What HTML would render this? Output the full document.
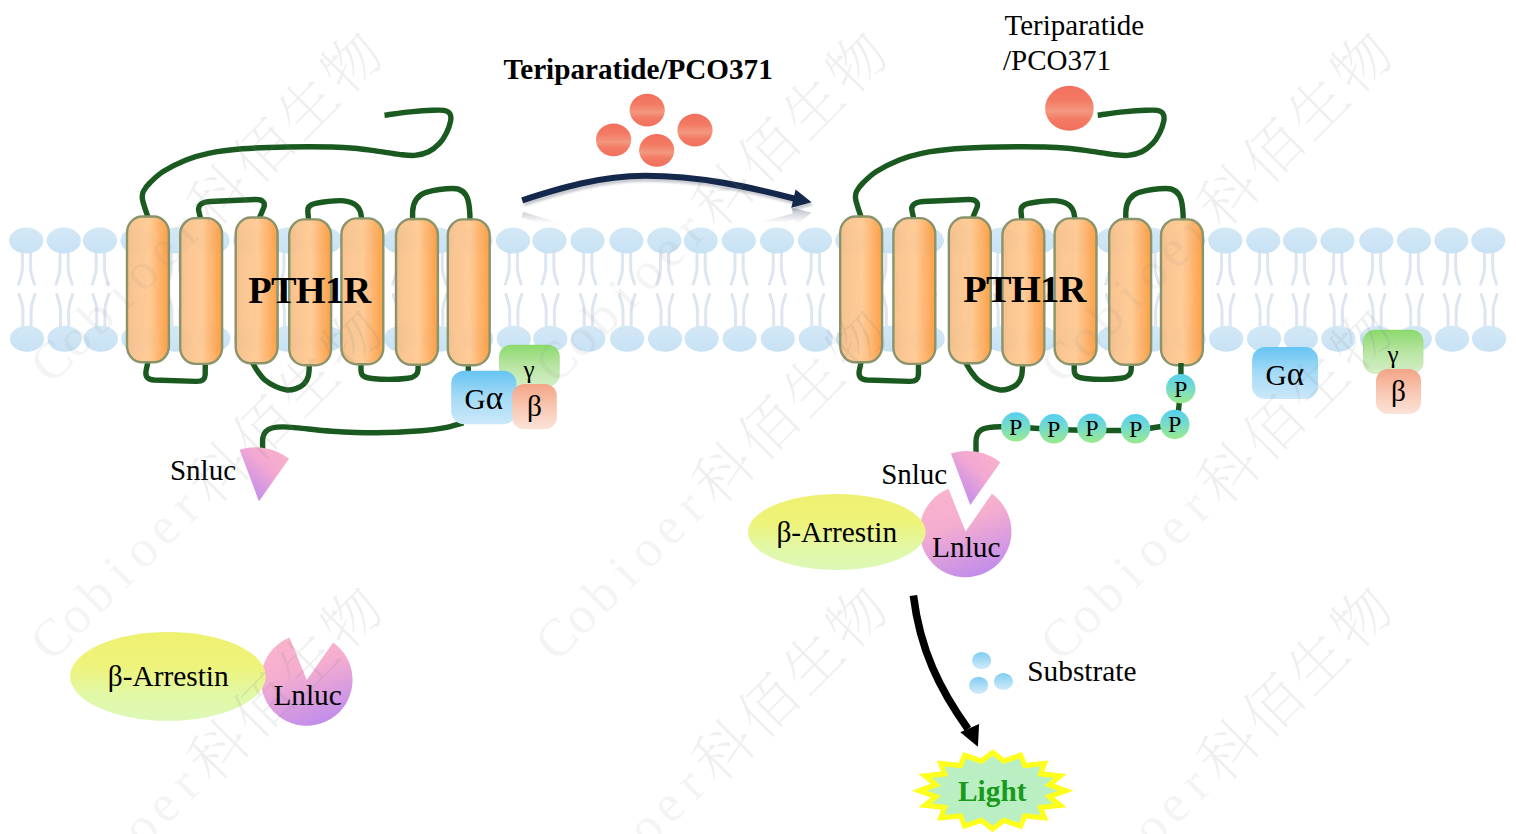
<!DOCTYPE html>
<html lang="en"><head><meta charset="utf-8"><title>PTH1R beta-arrestin NanoBiT assay</title>
<style>
html,body{margin:0;padding:0;background:#fff;}
body{width:1516px;height:834px;overflow:hidden;font-family:'Liberation Serif', 'Noto Serif CJK SC', serif;}
svg{display:block}
text{font-family:'Liberation Serif', 'Noto Serif CJK SC', serif;fill:#000;}
.b{font-weight:bold}
.tail{fill:none;stroke:#dde5f1;stroke-width:3;stroke-linecap:round}
.loop{fill:none;stroke:#1a5a20;stroke-width:5.4;stroke-linecap:butt;stroke-linejoin:round}
.helix{fill:url(#gHelix);stroke:#89946a;stroke-width:2.4;fill-opacity:0.93}
.wm{fill:#808080;fill-opacity:0.125;font-family:'Liberation Serif','Noto Serif CJK SC',serif;font-weight:200}
.wml{fill-opacity:0.09}
</style></head><body>
<svg width="1516" height="834" viewBox="0 0 1516 834">

<defs>
<linearGradient id="gHead" x1="0" y1="0" x2="0" y2="1"><stop offset="0" stop-color="#d4e8f6"/><stop offset="1" stop-color="#c7e2f4"/></linearGradient>
<linearGradient id="gHelix" x1="0" y1="0" x2="1" y2="0">
 <stop offset="0" stop-color="#f6bc84"/><stop offset="0.2" stop-color="#fac38c"/><stop offset="0.52" stop-color="#ffc890"/><stop offset="0.78" stop-color="#feae62"/><stop offset="0.95" stop-color="#fe9e40"/><stop offset="1" stop-color="#f8993a"/></linearGradient>
<linearGradient id="gRed" x1="0" y1="0" x2="0" y2="1"><stop offset="0" stop-color="#f2705c"/><stop offset="0.32" stop-color="#f37a64"/><stop offset="0.57" stop-color="#f3987f"/><stop offset="0.74" stop-color="#f37b65"/><stop offset="1" stop-color="#f16f5c"/></linearGradient>
<linearGradient id="gGa" x1="0" y1="0" x2="0" y2="1"><stop offset="0" stop-color="#66c4f2"/><stop offset="0.5" stop-color="#a6dbf6"/><stop offset="1" stop-color="#cbe8f9"/></linearGradient>
<linearGradient id="gGg" x1="0" y1="0" x2="0" y2="1"><stop offset="0" stop-color="#8bd96c"/><stop offset="0.5" stop-color="#b8e5a2"/><stop offset="1" stop-color="#d5efc8"/></linearGradient>
<linearGradient id="gGb" x1="0" y1="0" x2="0" y2="1"><stop offset="0" stop-color="#f3a486"/><stop offset="0.5" stop-color="#f8c7b2"/><stop offset="1" stop-color="#fbe3d8"/></linearGradient>
<linearGradient id="gP" x1="0" y1="0" x2="0" y2="1"><stop offset="0" stop-color="#55cff0"/><stop offset="0.5" stop-color="#78dcc8"/><stop offset="1" stop-color="#9aea8c"/></linearGradient>
<linearGradient id="gArr" x1="0" y1="0" x2="0" y2="1"><stop offset="0" stop-color="#eef170"/><stop offset="0.38" stop-color="#eef37a"/><stop offset="0.7" stop-color="#e2f8a6"/><stop offset="1" stop-color="#dcf8b6"/></linearGradient>
<linearGradient id="gLn" x1="0.3" y1="0.05" x2="0.65" y2="1"><stop offset="0" stop-color="#f9b3cc"/><stop offset="0.35" stop-color="#f5add0"/><stop offset="1" stop-color="#c08cec"/></linearGradient>
<linearGradient id="gSn" x1="0.85" y1="0.1" x2="0.2" y2="0.85"><stop offset="0" stop-color="#f8b0cc"/><stop offset="0.4" stop-color="#f2a8d2"/><stop offset="1" stop-color="#c48eea"/></linearGradient>
<linearGradient id="gSub" x1="0" y1="0" x2="0" y2="1"><stop offset="0" stop-color="#7fcdf3"/><stop offset="1" stop-color="#d3ebf9"/></linearGradient>
<linearGradient id="gRefl" gradientUnits="userSpaceOnUse" x1="0" y1="209" x2="0" y2="223"><stop offset="0" stop-color="#fff"/><stop offset="1" stop-color="#000"/></linearGradient>
<mask id="mRefl" maskUnits="userSpaceOnUse" x="500" y="200" width="340" height="40"><rect x="500" y="200" width="340" height="40" fill="url(#gRefl)"/></mask>
<filter id="fBlur" x="-5%" y="-20%" width="110%" height="140%"><feGaussianBlur stdDeviation="1"/></filter>
<g id="navy"><path d="M522.2 200.3 C560 188 600 176 645 175.8 C700 175.8 750 187 795 198.8" fill="none" stroke="currentColor" stroke-width="6.1"/><path d="M795.6 189.6 L811.6 202.3 L791.3 207.7 Z" fill="currentColor"/></g>
</defs>

<rect width="1516" height="834" fill="#fff"/>
<g id="membrane">
<path d="M22.4 252 V268 C22.4 274 20.3 278 18.6 284 M30.6 252 V268 C30.6 274 32.7 278 34.4 284" class="tail"/>
<path d="M22.9 327 V310.5 C22.9 304.5 20.8 300.5 19.1 294.5 M31.1 327 V310.5 C31.1 304.5 33.2 300.5 34.9 294.5" class="tail"/>
<ellipse cx="26.2" cy="240.6" rx="17.1" ry="13" fill="url(#gHead)"/>
<ellipse cx="27.0" cy="338.7" rx="17.1" ry="13" fill="url(#gHead)"/>
<path d="M60.0 252 V268 C60.0 274 57.9 278 56.2 284 M68.2 252 V268 C68.2 274 70.3 278 72.0 284" class="tail"/>
<path d="M60.5 327 V310.5 C60.5 304.5 58.4 300.5 56.7 294.5 M68.7 327 V310.5 C68.7 304.5 70.8 300.5 72.5 294.5" class="tail"/>
<ellipse cx="63.8" cy="240.6" rx="17.1" ry="13" fill="url(#gHead)"/>
<ellipse cx="64.6" cy="338.7" rx="17.1" ry="13" fill="url(#gHead)"/>
<path d="M96.2 252 V268 C96.2 274 94.1 278 92.4 284 M104.4 252 V268 C104.4 274 106.5 278 108.2 284" class="tail"/>
<path d="M96.7 327 V310.5 C96.7 304.5 94.6 300.5 92.9 294.5 M104.9 327 V310.5 C104.9 304.5 107.0 300.5 108.7 294.5" class="tail"/>
<ellipse cx="100.0" cy="240.6" rx="17.1" ry="13" fill="url(#gHead)"/>
<ellipse cx="100.8" cy="338.7" rx="17.1" ry="13" fill="url(#gHead)"/>
<path d="M133.7 252 V268 C133.7 274 131.6 278 129.9 284 M141.9 252 V268 C141.9 274 144.0 278 145.7 284" class="tail"/>
<path d="M134.2 327 V310.5 C134.2 304.5 132.1 300.5 130.4 294.5 M142.4 327 V310.5 C142.4 304.5 144.5 300.5 146.2 294.5" class="tail"/>
<ellipse cx="137.5" cy="240.6" rx="17.1" ry="13" fill="url(#gHead)"/>
<ellipse cx="138.3" cy="338.7" rx="17.1" ry="13" fill="url(#gHead)"/>
<path d="M171.2 252 V268 C171.2 274 169.2 278 167.5 284 M179.5 252 V268 C179.5 274 181.6 278 183.2 284" class="tail"/>
<path d="M171.8 327 V310.5 C171.8 304.5 169.7 300.5 168.0 294.5 M180.0 327 V310.5 C180.0 304.5 182.1 300.5 183.8 294.5" class="tail"/>
<ellipse cx="175.1" cy="240.6" rx="17.1" ry="13" fill="url(#gHead)"/>
<ellipse cx="175.9" cy="338.7" rx="17.1" ry="13" fill="url(#gHead)"/>
<path d="M208.8 252 V268 C208.8 274 206.7 278 205.0 284 M217.0 252 V268 C217.0 274 219.1 278 220.8 284" class="tail"/>
<path d="M209.3 327 V310.5 C209.3 304.5 207.2 300.5 205.5 294.5 M217.5 327 V310.5 C217.5 304.5 219.6 300.5 221.3 294.5" class="tail"/>
<ellipse cx="212.6" cy="240.6" rx="17.1" ry="13" fill="url(#gHead)"/>
<ellipse cx="213.4" cy="338.7" rx="17.1" ry="13" fill="url(#gHead)"/>
<path d="M246.3 252 V268 C246.3 274 244.2 278 242.6 284 M254.6 252 V268 C254.6 274 256.6 278 258.4 284" class="tail"/>
<path d="M246.8 327 V310.5 C246.8 304.5 244.8 300.5 243.1 294.5 M255.1 327 V310.5 C255.1 304.5 257.1 300.5 258.9 294.5" class="tail"/>
<ellipse cx="250.2" cy="240.6" rx="17.1" ry="13" fill="url(#gHead)"/>
<ellipse cx="251.0" cy="338.7" rx="17.1" ry="13" fill="url(#gHead)"/>
<path d="M283.9 252 V268 C283.9 274 281.8 278 280.1 284 M292.1 252 V268 C292.1 274 294.2 278 295.9 284" class="tail"/>
<path d="M284.4 327 V310.5 C284.4 304.5 282.3 300.5 280.6 294.5 M292.6 327 V310.5 C292.6 304.5 294.7 300.5 296.4 294.5" class="tail"/>
<ellipse cx="287.7" cy="240.6" rx="17.1" ry="13" fill="url(#gHead)"/>
<ellipse cx="288.5" cy="338.7" rx="17.1" ry="13" fill="url(#gHead)"/>
<path d="M321.4 252 V268 C321.4 274 319.4 278 317.6 284 M329.6 252 V268 C329.6 274 331.8 278 333.4 284" class="tail"/>
<path d="M321.9 327 V310.5 C321.9 304.5 319.9 300.5 318.1 294.5 M330.1 327 V310.5 C330.1 304.5 332.2 300.5 333.9 294.5" class="tail"/>
<ellipse cx="325.2" cy="240.6" rx="17.1" ry="13" fill="url(#gHead)"/>
<ellipse cx="326.1" cy="338.7" rx="17.1" ry="13" fill="url(#gHead)"/>
<path d="M359.0 252 V268 C359.0 274 356.9 278 355.2 284 M367.2 252 V268 C367.2 274 369.3 278 371.0 284" class="tail"/>
<path d="M359.5 327 V310.5 C359.5 304.5 357.4 300.5 355.7 294.5 M367.7 327 V310.5 C367.7 304.5 369.8 300.5 371.5 294.5" class="tail"/>
<ellipse cx="362.8" cy="240.6" rx="17.1" ry="13" fill="url(#gHead)"/>
<ellipse cx="363.6" cy="338.7" rx="17.1" ry="13" fill="url(#gHead)"/>
<path d="M396.6 252 V268 C396.6 274 394.5 278 392.8 284 M404.8 252 V268 C404.8 274 406.9 278 408.6 284" class="tail"/>
<path d="M397.1 327 V310.5 C397.1 304.5 395.0 300.5 393.2 294.5 M405.2 327 V310.5 C405.2 304.5 407.4 300.5 409.1 294.5" class="tail"/>
<ellipse cx="400.4" cy="240.6" rx="17.1" ry="13" fill="url(#gHead)"/>
<ellipse cx="401.2" cy="338.7" rx="17.1" ry="13" fill="url(#gHead)"/>
<path d="M434.1 252 V268 C434.1 274 432.0 278 430.3 284 M442.3 252 V268 C442.3 274 444.4 278 446.1 284" class="tail"/>
<path d="M434.6 327 V310.5 C434.6 304.5 432.5 300.5 430.8 294.5 M442.8 327 V310.5 C442.8 304.5 444.9 300.5 446.6 294.5" class="tail"/>
<ellipse cx="437.9" cy="240.6" rx="17.1" ry="13" fill="url(#gHead)"/>
<ellipse cx="438.7" cy="338.7" rx="17.1" ry="13" fill="url(#gHead)"/>
<path d="M471.6 252 V268 C471.6 274 469.6 278 467.8 284 M479.8 252 V268 C479.8 274 481.9 278 483.6 284" class="tail"/>
<path d="M472.1 327 V310.5 C472.1 304.5 470.1 300.5 468.3 294.5 M480.3 327 V310.5 C480.3 304.5 482.4 300.5 484.1 294.5" class="tail"/>
<ellipse cx="475.4" cy="240.6" rx="17.1" ry="13" fill="url(#gHead)"/>
<ellipse cx="476.2" cy="338.7" rx="17.1" ry="13" fill="url(#gHead)"/>
<path d="M509.2 252 V268 C509.2 274 507.1 278 505.4 284 M517.4 252 V268 C517.4 274 519.5 278 521.2 284" class="tail"/>
<path d="M509.7 327 V310.5 C509.7 304.5 507.6 300.5 505.9 294.5 M517.9 327 V310.5 C517.9 304.5 520.0 300.5 521.7 294.5" class="tail"/>
<ellipse cx="513.0" cy="240.6" rx="17.1" ry="13" fill="url(#gHead)"/>
<ellipse cx="513.8" cy="338.7" rx="17.1" ry="13" fill="url(#gHead)"/>
<path d="M545.7 252 V268 C545.7 274 543.6 278 541.9 284 M553.9 252 V268 C553.9 274 556.0 278 557.7 284" class="tail"/>
<path d="M546.2 327 V310.5 C546.2 304.5 544.1 300.5 542.4 294.5 M554.4 327 V310.5 C554.4 304.5 556.5 300.5 558.2 294.5" class="tail"/>
<ellipse cx="549.5" cy="240.6" rx="17.1" ry="13" fill="url(#gHead)"/>
<ellipse cx="550.3" cy="338.7" rx="17.1" ry="13" fill="url(#gHead)"/>
<path d="M583.7 252 V268 C583.7 274 581.6 278 579.9 284 M591.9 252 V268 C591.9 274 594.0 278 595.7 284" class="tail"/>
<path d="M584.2 327 V310.5 C584.2 304.5 582.1 300.5 580.4 294.5 M592.4 327 V310.5 C592.4 304.5 594.5 300.5 596.2 294.5" class="tail"/>
<ellipse cx="587.5" cy="240.6" rx="17.1" ry="13" fill="url(#gHead)"/>
<ellipse cx="588.3" cy="338.7" rx="17.1" ry="13" fill="url(#gHead)"/>
<path d="M622.5 252 V268 C622.5 274 620.4 278 618.7 284 M630.7 252 V268 C630.7 274 632.8 278 634.5 284" class="tail"/>
<path d="M623.0 327 V310.5 C623.0 304.5 620.9 300.5 619.2 294.5 M631.2 327 V310.5 C631.2 304.5 633.3 300.5 635.0 294.5" class="tail"/>
<ellipse cx="626.3" cy="240.6" rx="17.1" ry="13" fill="url(#gHead)"/>
<ellipse cx="627.1" cy="338.7" rx="17.1" ry="13" fill="url(#gHead)"/>
<path d="M660.5 252 V268 C660.5 274 658.4 278 656.7 284 M668.7 252 V268 C668.7 274 670.8 278 672.5 284" class="tail"/>
<path d="M661.0 327 V310.5 C661.0 304.5 658.9 300.5 657.2 294.5 M669.2 327 V310.5 C669.2 304.5 671.3 300.5 673.0 294.5" class="tail"/>
<ellipse cx="664.3" cy="240.6" rx="17.1" ry="13" fill="url(#gHead)"/>
<ellipse cx="665.1" cy="338.7" rx="17.1" ry="13" fill="url(#gHead)"/>
<path d="M697.0 252 V268 C697.0 274 694.9 278 693.2 284 M705.2 252 V268 C705.2 274 707.3 278 709.0 284" class="tail"/>
<path d="M697.5 327 V310.5 C697.5 304.5 695.4 300.5 693.7 294.5 M705.7 327 V310.5 C705.7 304.5 707.8 300.5 709.5 294.5" class="tail"/>
<ellipse cx="700.8" cy="240.6" rx="17.1" ry="13" fill="url(#gHead)"/>
<ellipse cx="701.6" cy="338.7" rx="17.1" ry="13" fill="url(#gHead)"/>
<path d="M735.0 252 V268 C735.0 274 732.9 278 731.2 284 M743.2 252 V268 C743.2 274 745.3 278 747.0 284" class="tail"/>
<path d="M735.5 327 V310.5 C735.5 304.5 733.4 300.5 731.7 294.5 M743.7 327 V310.5 C743.7 304.5 745.8 300.5 747.5 294.5" class="tail"/>
<ellipse cx="738.8" cy="240.6" rx="17.1" ry="13" fill="url(#gHead)"/>
<ellipse cx="739.6" cy="338.7" rx="17.1" ry="13" fill="url(#gHead)"/>
<path d="M773.2 252 V268 C773.2 274 771.1 278 769.4 284 M781.4 252 V268 C781.4 274 783.5 278 785.2 284" class="tail"/>
<path d="M773.7 327 V310.5 C773.7 304.5 771.6 300.5 769.9 294.5 M781.9 327 V310.5 C781.9 304.5 784.0 300.5 785.7 294.5" class="tail"/>
<ellipse cx="777.0" cy="240.6" rx="17.1" ry="13" fill="url(#gHead)"/>
<ellipse cx="777.8" cy="338.7" rx="17.1" ry="13" fill="url(#gHead)"/>
<path d="M811.2 252 V268 C811.2 274 809.1 278 807.4 284 M819.4 252 V268 C819.4 274 821.5 278 823.2 284" class="tail"/>
<path d="M811.7 327 V310.5 C811.7 304.5 809.6 300.5 807.9 294.5 M819.9 327 V310.5 C819.9 304.5 822.0 300.5 823.7 294.5" class="tail"/>
<ellipse cx="815.0" cy="240.6" rx="17.1" ry="13" fill="url(#gHead)"/>
<ellipse cx="815.8" cy="338.7" rx="17.1" ry="13" fill="url(#gHead)"/>
<path d="M848.5 252 V268 C848.5 274 846.4 278 844.7 284 M856.7 252 V268 C856.7 274 858.8 278 860.5 284" class="tail"/>
<path d="M849.0 327 V310.5 C849.0 304.5 846.9 300.5 845.2 294.5 M857.2 327 V310.5 C857.2 304.5 859.3 300.5 861.0 294.5" class="tail"/>
<ellipse cx="852.3" cy="240.6" rx="17.1" ry="13" fill="url(#gHead)"/>
<ellipse cx="853.1" cy="338.7" rx="17.1" ry="13" fill="url(#gHead)"/>
<path d="M885.8 252 V268 C885.8 274 883.7 278 882.0 284 M894.0 252 V268 C894.0 274 896.1 278 897.8 284" class="tail"/>
<path d="M886.3 327 V310.5 C886.3 304.5 884.2 300.5 882.5 294.5 M894.5 327 V310.5 C894.5 304.5 896.6 300.5 898.3 294.5" class="tail"/>
<ellipse cx="889.6" cy="240.6" rx="17.1" ry="13" fill="url(#gHead)"/>
<ellipse cx="890.4" cy="338.7" rx="17.1" ry="13" fill="url(#gHead)"/>
<path d="M923.1 252 V268 C923.1 274 921.0 278 919.3 284 M931.3 252 V268 C931.3 274 933.4 278 935.1 284" class="tail"/>
<path d="M923.6 327 V310.5 C923.6 304.5 921.5 300.5 919.8 294.5 M931.8 327 V310.5 C931.8 304.5 933.9 300.5 935.6 294.5" class="tail"/>
<ellipse cx="926.9" cy="240.6" rx="17.1" ry="13" fill="url(#gHead)"/>
<ellipse cx="927.7" cy="338.7" rx="17.1" ry="13" fill="url(#gHead)"/>
<path d="M960.4 252 V268 C960.4 274 958.3 278 956.6 284 M968.6 252 V268 C968.6 274 970.7 278 972.4 284" class="tail"/>
<path d="M960.9 327 V310.5 C960.9 304.5 958.8 300.5 957.1 294.5 M969.1 327 V310.5 C969.1 304.5 971.2 300.5 972.9 294.5" class="tail"/>
<ellipse cx="964.2" cy="240.6" rx="17.1" ry="13" fill="url(#gHead)"/>
<ellipse cx="965.0" cy="338.7" rx="17.1" ry="13" fill="url(#gHead)"/>
<path d="M997.7 252 V268 C997.7 274 995.6 278 993.9 284 M1005.9 252 V268 C1005.9 274 1008.0 278 1009.7 284" class="tail"/>
<path d="M998.2 327 V310.5 C998.2 304.5 996.1 300.5 994.4 294.5 M1006.4 327 V310.5 C1006.4 304.5 1008.5 300.5 1010.2 294.5" class="tail"/>
<ellipse cx="1001.5" cy="240.6" rx="17.1" ry="13" fill="url(#gHead)"/>
<ellipse cx="1002.3" cy="338.7" rx="17.1" ry="13" fill="url(#gHead)"/>
<path d="M1035.0 252 V268 C1035.0 274 1032.9 278 1031.2 284 M1043.2 252 V268 C1043.2 274 1045.3 278 1047.0 284" class="tail"/>
<path d="M1035.5 327 V310.5 C1035.5 304.5 1033.4 300.5 1031.7 294.5 M1043.7 327 V310.5 C1043.7 304.5 1045.8 300.5 1047.5 294.5" class="tail"/>
<ellipse cx="1038.8" cy="240.6" rx="17.1" ry="13" fill="url(#gHead)"/>
<ellipse cx="1039.6" cy="338.7" rx="17.1" ry="13" fill="url(#gHead)"/>
<path d="M1072.3 252 V268 C1072.3 274 1070.2 278 1068.5 284 M1080.5 252 V268 C1080.5 274 1082.6 278 1084.3 284" class="tail"/>
<path d="M1072.8 327 V310.5 C1072.8 304.5 1070.7 300.5 1069.0 294.5 M1081.0 327 V310.5 C1081.0 304.5 1083.1 300.5 1084.8 294.5" class="tail"/>
<ellipse cx="1076.1" cy="240.6" rx="17.1" ry="13" fill="url(#gHead)"/>
<ellipse cx="1076.9" cy="338.7" rx="17.1" ry="13" fill="url(#gHead)"/>
<path d="M1109.6 252 V268 C1109.6 274 1107.5 278 1105.8 284 M1117.8 252 V268 C1117.8 274 1119.9 278 1121.6 284" class="tail"/>
<path d="M1110.1 327 V310.5 C1110.1 304.5 1108.0 300.5 1106.3 294.5 M1118.3 327 V310.5 C1118.3 304.5 1120.4 300.5 1122.1 294.5" class="tail"/>
<ellipse cx="1113.4" cy="240.6" rx="17.1" ry="13" fill="url(#gHead)"/>
<ellipse cx="1114.2" cy="338.7" rx="17.1" ry="13" fill="url(#gHead)"/>
<path d="M1146.9 252 V268 C1146.9 274 1144.8 278 1143.1 284 M1155.1 252 V268 C1155.1 274 1157.2 278 1158.9 284" class="tail"/>
<path d="M1147.4 327 V310.5 C1147.4 304.5 1145.3 300.5 1143.6 294.5 M1155.6 327 V310.5 C1155.6 304.5 1157.7 300.5 1159.4 294.5" class="tail"/>
<ellipse cx="1150.7" cy="240.6" rx="17.1" ry="13" fill="url(#gHead)"/>
<ellipse cx="1151.5" cy="338.7" rx="17.1" ry="13" fill="url(#gHead)"/>
<path d="M1184.2 252 V268 C1184.2 274 1182.1 278 1180.4 284 M1192.4 252 V268 C1192.4 274 1194.5 278 1196.2 284" class="tail"/>
<path d="M1184.7 327 V310.5 C1184.7 304.5 1182.6 300.5 1180.9 294.5 M1192.9 327 V310.5 C1192.9 304.5 1195.0 300.5 1196.7 294.5" class="tail"/>
<ellipse cx="1188.0" cy="240.6" rx="17.1" ry="13" fill="url(#gHead)"/>
<ellipse cx="1188.8" cy="338.7" rx="17.1" ry="13" fill="url(#gHead)"/>
<path d="M1221.5 252 V268 C1221.5 274 1219.4 278 1217.7 284 M1229.7 252 V268 C1229.7 274 1231.8 278 1233.5 284" class="tail"/>
<path d="M1222.0 327 V310.5 C1222.0 304.5 1219.9 300.5 1218.2 294.5 M1230.2 327 V310.5 C1230.2 304.5 1232.3 300.5 1234.0 294.5" class="tail"/>
<ellipse cx="1225.3" cy="240.6" rx="17.1" ry="13" fill="url(#gHead)"/>
<ellipse cx="1226.1" cy="338.7" rx="17.1" ry="13" fill="url(#gHead)"/>
<path d="M1259.5 252 V268 C1259.5 274 1257.4 278 1255.7 284 M1267.7 252 V268 C1267.7 274 1269.8 278 1271.5 284" class="tail"/>
<path d="M1260.0 327 V310.5 C1260.0 304.5 1257.9 300.5 1256.2 294.5 M1268.2 327 V310.5 C1268.2 304.5 1270.3 300.5 1272.0 294.5" class="tail"/>
<ellipse cx="1263.3" cy="240.6" rx="17.1" ry="13" fill="url(#gHead)"/>
<ellipse cx="1264.1" cy="338.7" rx="17.1" ry="13" fill="url(#gHead)"/>
<path d="M1296.2 252 V268 C1296.2 274 1294.1 278 1292.4 284 M1304.4 252 V268 C1304.4 274 1306.5 278 1308.2 284" class="tail"/>
<path d="M1296.7 327 V310.5 C1296.7 304.5 1294.6 300.5 1292.9 294.5 M1304.9 327 V310.5 C1304.9 304.5 1307.0 300.5 1308.7 294.5" class="tail"/>
<ellipse cx="1300.0" cy="240.6" rx="17.1" ry="13" fill="url(#gHead)"/>
<ellipse cx="1300.8" cy="338.7" rx="17.1" ry="13" fill="url(#gHead)"/>
<path d="M1333.7 252 V268 C1333.7 274 1331.6 278 1329.9 284 M1341.9 252 V268 C1341.9 274 1344.0 278 1345.7 284" class="tail"/>
<path d="M1334.2 327 V310.5 C1334.2 304.5 1332.1 300.5 1330.4 294.5 M1342.4 327 V310.5 C1342.4 304.5 1344.5 300.5 1346.2 294.5" class="tail"/>
<ellipse cx="1337.5" cy="240.6" rx="17.1" ry="13" fill="url(#gHead)"/>
<ellipse cx="1338.3" cy="338.7" rx="17.1" ry="13" fill="url(#gHead)"/>
<path d="M1372.5 252 V268 C1372.5 274 1370.4 278 1368.7 284 M1380.7 252 V268 C1380.7 274 1382.8 278 1384.5 284" class="tail"/>
<path d="M1373.0 327 V310.5 C1373.0 304.5 1370.9 300.5 1369.2 294.5 M1381.2 327 V310.5 C1381.2 304.5 1383.3 300.5 1385.0 294.5" class="tail"/>
<ellipse cx="1376.3" cy="240.6" rx="17.1" ry="13" fill="url(#gHead)"/>
<ellipse cx="1377.1" cy="338.7" rx="17.1" ry="13" fill="url(#gHead)"/>
<path d="M1410.2 252 V268 C1410.2 274 1408.1 278 1406.4 284 M1418.4 252 V268 C1418.4 274 1420.5 278 1422.2 284" class="tail"/>
<path d="M1410.7 327 V310.5 C1410.7 304.5 1408.6 300.5 1406.9 294.5 M1418.9 327 V310.5 C1418.9 304.5 1421.0 300.5 1422.7 294.5" class="tail"/>
<ellipse cx="1414.0" cy="240.6" rx="17.1" ry="13" fill="url(#gHead)"/>
<ellipse cx="1414.8" cy="338.7" rx="17.1" ry="13" fill="url(#gHead)"/>
<path d="M1447.5 252 V268 C1447.5 274 1445.4 278 1443.7 284 M1455.7 252 V268 C1455.7 274 1457.8 278 1459.5 284" class="tail"/>
<path d="M1448.0 327 V310.5 C1448.0 304.5 1445.9 300.5 1444.2 294.5 M1456.2 327 V310.5 C1456.2 304.5 1458.3 300.5 1460.0 294.5" class="tail"/>
<ellipse cx="1451.3" cy="240.6" rx="17.1" ry="13" fill="url(#gHead)"/>
<ellipse cx="1452.1" cy="338.7" rx="17.1" ry="13" fill="url(#gHead)"/>
<path d="M1484.5 252 V268 C1484.5 274 1482.4 278 1480.7 284 M1492.7 252 V268 C1492.7 274 1494.8 278 1496.5 284" class="tail"/>
<path d="M1485.0 327 V310.5 C1485.0 304.5 1482.9 300.5 1481.2 294.5 M1493.2 327 V310.5 C1493.2 304.5 1495.3 300.5 1497.0 294.5" class="tail"/>
<ellipse cx="1488.3" cy="240.6" rx="17.1" ry="13" fill="url(#gHead)"/>
<ellipse cx="1489.1" cy="338.7" rx="17.1" ry="13" fill="url(#gHead)"/>
</g>
<g transform="translate(0 0)">
<path d="M384.5 115.2 C388.8 114.7 402.2 112.7 410.3 111.9 C418.4 111.1 427.2 110.5 432.8 110.3 C438.4 110.0 441.2 109.9 444.0 110.4 C446.8 111.0 448.7 111.8 449.8 113.6 C450.9 115.4 451.2 117.8 450.6 121.0 C450.0 124.2 448.2 129.4 446.4 133.1 C444.5 136.8 442.5 140.3 439.5 143.4 C436.5 146.5 432.7 149.8 428.6 151.8 C424.5 153.8 419.7 155.0 414.8 155.4 C409.9 155.8 405.5 155.1 399.1 154.4 C392.8 153.7 384.2 152.1 376.7 151.1 C369.2 150.1 361.8 148.9 354.3 148.2 C346.8 147.5 343.0 147.2 331.8 147.0 C320.6 146.8 301.9 146.7 287.0 147.0 C272.1 147.3 255.2 147.8 242.1 148.8 C229.0 149.9 217.8 151.4 208.5 153.3 C199.2 155.2 193.6 157.0 186.1 160.0 C178.6 163.0 169.6 167.6 163.6 171.3 C157.6 175.1 153.6 179.2 150.2 182.5 C146.8 185.8 144.7 188.8 143.4 191.4 C142.1 194.0 142.1 195.6 142.3 198.2 C142.5 200.8 143.6 203.8 144.6 207.1 C145.6 210.4 147.7 216.2 148.3 218.0" class="loop"/>
<path d="M200.6 219 L198.8 211 C197.5 205.5 201 202.2 210 201.5 L255 199.5 C262 199.2 265.5 202 264 207 L259 219" class="loop"/>
<path d="M308.6 220 L307.8 211.5 C307.3 207 310 204.6 315.5 203.4 C324 201.6 332 200.6 340 200.6 C351 200.8 358 204.5 360.5 212 L362 220" class="loop"/>
<path d="M412.6 221 L412.6 212 C413 202 417 195.5 426 192.3 C436 189.5 446 188.5 453 188.5 C462 188.5 466 193 468 200 C469.5 206 470 212 470 221" class="loop"/>
<path d="M147.9 362 L146 371 C145 377 148 379.6 154 380 L196 381.4 C202.5 381.6 205 379.5 205.2 374.5 L205.3 363" class="loop"/>
<path d="M252.2 362.0 C253.1 363.5 255.4 368.1 257.5 371.0 C259.6 373.9 261.6 377.1 264.6 379.7 C267.7 382.3 272.1 384.9 275.8 386.6 C279.5 388.3 283.6 389.7 287.0 390.0 C290.4 390.3 293.2 389.6 296.0 388.6 C298.8 387.6 301.8 386.2 303.8 384.2 C305.9 382.1 307.4 379.5 308.3 376.3 C309.2 373.1 309.2 366.9 309.4 365.0" class="loop"/>
<path d="M361 363 L361 370.5 C361.3 376 364.5 377.8 372 378.5 C385 379.8 398 379.5 408 378.2 C415 377.3 417.8 374.5 418 370 L418.2 364" class="loop"/>
<path d="M468.3 364 V373" class="loop"/>
<path d="M463.5 422.8 C460.2 423.6 451.0 426.6 444.0 427.9 C437.0 429.2 432.7 430.0 421.5 430.8 C410.3 431.6 391.6 432.7 376.7 432.8 C361.8 432.9 344.9 432.0 331.8 431.2 C318.7 430.4 306.3 428.6 298.2 427.9 C290.1 427.2 287.4 426.9 283.0 426.9 C278.6 426.9 274.9 427.2 272.0 428.0 C269.1 428.8 267.2 429.9 265.7 431.6 C264.2 433.3 263.3 434.9 262.8 438.0 C262.3 441.1 262.7 448.0 262.7 450.0" class="loop"/>
<rect x="127.00" y="216.50" width="41.9" height="145.8" rx="15.2" ry="16.2" class="helix"/>
<rect x="180.20" y="218.10" width="41.9" height="145.8" rx="15.2" ry="16.2" class="helix"/>
<rect x="235.70" y="217.50" width="41.9" height="145.8" rx="15.2" ry="16.2" class="helix"/>
<rect x="289.20" y="219.40" width="41.9" height="145.8" rx="15.2" ry="16.2" class="helix"/>
<rect x="341.40" y="218.40" width="41.9" height="145.8" rx="15.2" ry="16.2" class="helix"/>
<rect x="396.00" y="219.00" width="41.9" height="145.8" rx="15.2" ry="16.2" class="helix"/>
<rect x="447.80" y="219.40" width="41.9" height="145.8" rx="15.2" ry="16.2" class="helix"/>
<text x="309.4" y="303.2" text-anchor="middle" class="b" font-size="38.3" letter-spacing="-0.6">PTH1R</text>
</g>
<g id="gleft">
<rect x="499" y="344.8" width="60.8" height="41.7" rx="12" fill="url(#gGg)"/>
<rect x="451.2" y="370.8" width="65.3" height="53.4" rx="13" fill="url(#gGa)"/>
<rect x="512.2" y="384" width="44.6" height="45.2" rx="12" fill="url(#gGb)"/>
<text x="483.7" y="408.5" text-anchor="middle" font-size="29.33">G<tspan font-size="33">α</tspan></text>
<text x="529" y="378" text-anchor="middle" font-size="25">γ</text>
<text x="534.5" y="415.5" text-anchor="middle" font-size="29.33">β</text>
</g>
<path d="M259.0 501.3 L239.6 449.8 A54.15 54.15 0 0 1 289.0 458.8 Z" fill="url(#gSn)"/>
<text x="203" y="479.9" text-anchor="middle" font-size="29">Snluc</text>
<path d="M306.8 680.0 L333.1 642.5 A45.8 45.8 0 1 1 289.6 637.5 Z" fill="url(#gLn)"/>
<ellipse cx="167.9" cy="676.4" rx="97.8" ry="44.4" fill="url(#gArr)"/>
<text x="168.2" y="686" text-anchor="middle" font-size="29.33">β-Arrestin</text>
<text x="307.6" y="705.3" text-anchor="middle" font-size="29.33">Lnluc</text>
<text x="638.1" y="78.6" text-anchor="middle" class="b" font-size="29.15">Teriparatide/PCO371</text>
<ellipse cx="647.2" cy="110.2" rx="17.6" ry="16.4" fill="url(#gRed)"/>
<ellipse cx="613.6" cy="139.8" rx="17.6" ry="16.4" fill="url(#gRed)"/>
<ellipse cx="695" cy="130.2" rx="17.6" ry="16.4" fill="url(#gRed)"/>
<ellipse cx="656.7" cy="150.3" rx="17.6" ry="16.4" fill="url(#gRed)"/>
<g mask="url(#mRefl)"><g transform="translate(0 415) scale(1 -1)" opacity="0.55"><use href="#navy" style="color:#8d94a3"/></g></g>
<g transform="translate(1.5 3)" opacity="0.38" filter="url(#fBlur)"><use href="#navy" style="color:#6d7483"/></g>
<use href="#navy" style="color:#14284b"/>
<g transform="translate(713.2 0)">
<path d="M384.5 115.2 C388.8 114.7 402.2 112.7 410.3 111.9 C418.4 111.1 427.2 110.5 432.8 110.3 C438.4 110.0 441.2 109.9 444.0 110.4 C446.8 111.0 448.7 111.8 449.8 113.6 C450.9 115.4 451.2 117.8 450.6 121.0 C450.0 124.2 448.2 129.4 446.4 133.1 C444.5 136.8 442.5 140.3 439.5 143.4 C436.5 146.5 432.7 149.8 428.6 151.8 C424.5 153.8 419.7 155.0 414.8 155.4 C409.9 155.8 405.5 155.1 399.1 154.4 C392.8 153.7 384.2 152.1 376.7 151.1 C369.2 150.1 361.8 148.9 354.3 148.2 C346.8 147.5 343.0 147.2 331.8 147.0 C320.6 146.8 301.9 146.7 287.0 147.0 C272.1 147.3 255.2 147.8 242.1 148.8 C229.0 149.9 217.8 151.4 208.5 153.3 C199.2 155.2 193.6 157.0 186.1 160.0 C178.6 163.0 169.6 167.6 163.6 171.3 C157.6 175.1 153.6 179.2 150.2 182.5 C146.8 185.8 144.7 188.8 143.4 191.4 C142.1 194.0 142.1 195.6 142.3 198.2 C142.5 200.8 143.6 203.8 144.6 207.1 C145.6 210.4 147.7 216.2 148.3 218.0" class="loop"/>
<path d="M200.6 219 L198.8 211 C197.5 205.5 201 202.2 210 201.5 L255 199.5 C262 199.2 265.5 202 264 207 L259 219" class="loop"/>
<path d="M308.6 220 L307.8 211.5 C307.3 207 310 204.6 315.5 203.4 C324 201.6 332 200.6 340 200.6 C351 200.8 358 204.5 360.5 212 L362 220" class="loop"/>
<path d="M412.6 221 L412.6 212 C413 202 417 195.5 426 192.3 C436 189.5 446 188.5 453 188.5 C462 188.5 466 193 468 200 C469.5 206 470 212 470 221" class="loop"/>
<path d="M147.9 362 L146 371 C145 377 148 379.6 154 380 L196 381.4 C202.5 381.6 205 379.5 205.2 374.5 L205.3 363" class="loop"/>
<path d="M252.2 362.0 C253.1 363.5 255.4 368.1 257.5 371.0 C259.6 373.9 261.6 377.1 264.6 379.7 C267.7 382.3 272.1 384.9 275.8 386.6 C279.5 388.3 283.6 389.7 287.0 390.0 C290.4 390.3 293.2 389.6 296.0 388.6 C298.8 387.6 301.8 386.2 303.8 384.2 C305.9 382.1 307.4 379.5 308.3 376.3 C309.2 373.1 309.2 366.9 309.4 365.0" class="loop"/>
<path d="M361 363 L361 370.5 C361.3 376 364.5 377.8 372 378.5 C385 379.8 398 379.5 408 378.2 C415 377.3 417.8 374.5 418 370 L418.2 364" class="loop"/>
<rect x="127.00" y="216.50" width="41.9" height="145.8" rx="15.2" ry="16.2" class="helix"/>
<rect x="180.20" y="218.10" width="41.9" height="145.8" rx="15.2" ry="16.2" class="helix"/>
<rect x="235.70" y="217.50" width="41.9" height="145.8" rx="15.2" ry="16.2" class="helix"/>
<rect x="289.20" y="219.40" width="41.9" height="145.8" rx="15.2" ry="16.2" class="helix"/>
<rect x="341.40" y="218.40" width="41.9" height="145.8" rx="15.2" ry="16.2" class="helix"/>
<rect x="396.00" y="219.00" width="41.9" height="145.8" rx="15.2" ry="16.2" class="helix"/>
<rect x="447.80" y="219.40" width="41.9" height="145.8" rx="15.2" ry="16.2" class="helix"/>
<text x="311.3" y="302.0" text-anchor="middle" class="b" font-size="38.3" letter-spacing="-0.6">PTH1R</text>
</g>
<path d="M1181 363 L1180.8 388.7 L1177 424 L1135.6 430.5 L1091.9 430.5 L1053.8 429.5 L1015.8 427 L1000 426.8 C982 426.8 976 430 976 442 L976 456" class="loop"/>
<circle cx="1180.8" cy="388.7" r="14.7" fill="url(#gP)"/>
<text x="1180.8" y="396.7" text-anchor="middle" font-size="24">P</text>
<circle cx="1174.8" cy="424.4" r="14.7" fill="url(#gP)"/>
<text x="1174.8" y="432.4" text-anchor="middle" font-size="24">P</text>
<circle cx="1135.6" cy="428.8" r="14.7" fill="url(#gP)"/>
<text x="1135.6" y="436.8" text-anchor="middle" font-size="24">P</text>
<circle cx="1091.9" cy="428.2" r="14.7" fill="url(#gP)"/>
<text x="1091.9" y="436.2" text-anchor="middle" font-size="24">P</text>
<circle cx="1053.8" cy="428.8" r="14.7" fill="url(#gP)"/>
<text x="1053.8" y="436.8" text-anchor="middle" font-size="24">P</text>
<circle cx="1015.8" cy="426.9" r="14.7" fill="url(#gP)"/>
<text x="1015.8" y="434.9" text-anchor="middle" font-size="24">P</text>
<text x="1004.5" y="35.1" font-size="29">Teriparatide</text>
<text x="1003" y="69.7" font-size="29">/PCO371</text>
<ellipse cx="1069.4" cy="108.3" rx="24.3" ry="22.5" fill="url(#gRed)"/>
<g id="gright">
<rect x="1252.1" y="347" width="66.0" height="52.0" rx="13" fill="url(#gGa)"/>
<rect x="1363" y="329.8" width="60.5" height="44.2" rx="12" fill="url(#gGg)"/>
<rect x="1376" y="369" width="45.0" height="45.0" rx="12" fill="url(#gGb)"/>
<text x="1284.7" y="385" text-anchor="middle" font-size="29.33">G<tspan font-size="33">α</tspan></text>
<text x="1393" y="363" text-anchor="middle" font-size="25">γ</text>
<text x="1398.5" y="400.5" text-anchor="middle" font-size="29.33">β</text>
</g>
<path d="M965.6 531.4 L991.9 493.8 A45.9 45.9 0 1 1 948.4 488.8 Z" fill="url(#gLn)"/>
<ellipse cx="836.8" cy="532" rx="88.8" ry="38" fill="url(#gArr)"/>
<path d="M970.3 504.9 L950.9 453.4 A54.15 54.15 0 0 1 1000.3 462.4 Z" fill="url(#gSn)"/>
<text x="914.2" y="483.8" text-anchor="middle" font-size="29">Snluc</text>
<text x="836.8" y="541.6" text-anchor="middle" font-size="29.33">β-Arrestin</text>
<text x="966.3" y="556.6" text-anchor="middle" font-size="29.33">Lnluc</text>
<path d="M913.4 595.5 C920 650 940 690 968 729" fill="none" stroke="#000" stroke-width="7.6"/>
<path d="M960.3 732.2 L979.1 724.1 L977.9 746.7 Z" fill="#000"/>
<ellipse cx="981.6" cy="660.7" rx="9.6" ry="8.6" fill="url(#gSub)"/>
<ellipse cx="978.6" cy="685.3" rx="9.6" ry="8.6" fill="url(#gSub)"/>
<ellipse cx="1003.4" cy="681.5" rx="9.6" ry="8.6" fill="url(#gSub)"/>
<text x="1081.9" y="680.8" text-anchor="middle" font-size="29.33">Substrate</text>
<polygon points="992.6,752.4 1003.9,761.0 1020.6,755.3 1024.7,765.5 1044.4,763.6 1040.7,773.9 1060.2,776.0 1049.3,784.8 1065.8,790.7 1049.3,796.6 1060.2,805.4 1040.7,807.5 1044.4,817.8 1024.7,815.9 1020.6,826.1 1003.9,820.4 992.6,829.0 981.3,820.4 964.6,826.1 960.5,815.9 940.8,817.8 944.5,807.5 925.0,805.4 935.9,796.6 919.4,790.7 935.9,784.8 925.0,776.0 944.5,773.9 940.8,763.6 960.5,765.5 964.6,755.3 981.3,761.0" fill="#b9efc3" stroke="#ffff1e" stroke-width="5.2" stroke-linejoin="miter"/>
<text x="992.3" y="800.6" text-anchor="middle" class="b" font-size="29.33" style="fill:#1a9a1a">Light</text>
<g id="wm">
<text transform="translate(52.4 361.6) rotate(-45)" class="wm" text-anchor="middle" y="20.9"><tspan font-size="53" class="wml"><tspan x="0.0" y="16.4">C</tspan><tspan x="31.3" y="16.4">o</tspan><tspan x="62.6" y="16.4">b</tspan><tspan x="93.9" y="16.4">i</tspan><tspan x="125.2" y="16.4">o</tspan><tspan x="156.5" y="16.4">e</tspan><tspan x="187.8" y="16.4">r</tspan></tspan><tspan font-size="58"><tspan x="234.9" y="20.9">科</tspan><tspan x="297.7" y="20.9">佰</tspan><tspan x="360.5" y="20.9">生</tspan><tspan x="423.3" y="20.9">物</tspan></tspan></text>
<text transform="translate(557.4 361.6) rotate(-45)" class="wm" text-anchor="middle" y="20.9"><tspan font-size="53" class="wml"><tspan x="0.0" y="16.4">C</tspan><tspan x="31.3" y="16.4">o</tspan><tspan x="62.6" y="16.4">b</tspan><tspan x="93.9" y="16.4">i</tspan><tspan x="125.2" y="16.4">o</tspan><tspan x="156.5" y="16.4">e</tspan><tspan x="187.8" y="16.4">r</tspan></tspan><tspan font-size="58"><tspan x="234.9" y="20.9">科</tspan><tspan x="297.7" y="20.9">佰</tspan><tspan x="360.5" y="20.9">生</tspan><tspan x="423.3" y="20.9">物</tspan></tspan></text>
<text transform="translate(1062.4 361.6) rotate(-45)" class="wm" text-anchor="middle" y="20.9"><tspan font-size="53" class="wml"><tspan x="0.0" y="16.4">C</tspan><tspan x="31.3" y="16.4">o</tspan><tspan x="62.6" y="16.4">b</tspan><tspan x="93.9" y="16.4">i</tspan><tspan x="125.2" y="16.4">o</tspan><tspan x="156.5" y="16.4">e</tspan><tspan x="187.8" y="16.4">r</tspan></tspan><tspan font-size="58"><tspan x="234.9" y="20.9">科</tspan><tspan x="297.7" y="20.9">佰</tspan><tspan x="360.5" y="20.9">生</tspan><tspan x="423.3" y="20.9">物</tspan></tspan></text>
<text transform="translate(52.4 639.1) rotate(-45)" class="wm" text-anchor="middle" y="20.9"><tspan font-size="53" class="wml"><tspan x="0.0" y="16.4">C</tspan><tspan x="31.3" y="16.4">o</tspan><tspan x="62.6" y="16.4">b</tspan><tspan x="93.9" y="16.4">i</tspan><tspan x="125.2" y="16.4">o</tspan><tspan x="156.5" y="16.4">e</tspan><tspan x="187.8" y="16.4">r</tspan></tspan><tspan font-size="58"><tspan x="234.9" y="20.9">科</tspan><tspan x="297.7" y="20.9">佰</tspan><tspan x="360.5" y="20.9">生</tspan><tspan x="423.3" y="20.9">物</tspan></tspan></text>
<text transform="translate(557.4 639.1) rotate(-45)" class="wm" text-anchor="middle" y="20.9"><tspan font-size="53" class="wml"><tspan x="0.0" y="16.4">C</tspan><tspan x="31.3" y="16.4">o</tspan><tspan x="62.6" y="16.4">b</tspan><tspan x="93.9" y="16.4">i</tspan><tspan x="125.2" y="16.4">o</tspan><tspan x="156.5" y="16.4">e</tspan><tspan x="187.8" y="16.4">r</tspan></tspan><tspan font-size="58"><tspan x="234.9" y="20.9">科</tspan><tspan x="297.7" y="20.9">佰</tspan><tspan x="360.5" y="20.9">生</tspan><tspan x="423.3" y="20.9">物</tspan></tspan></text>
<text transform="translate(1062.4 639.1) rotate(-45)" class="wm" text-anchor="middle" y="20.9"><tspan font-size="53" class="wml"><tspan x="0.0" y="16.4">C</tspan><tspan x="31.3" y="16.4">o</tspan><tspan x="62.6" y="16.4">b</tspan><tspan x="93.9" y="16.4">i</tspan><tspan x="125.2" y="16.4">o</tspan><tspan x="156.5" y="16.4">e</tspan><tspan x="187.8" y="16.4">r</tspan></tspan><tspan font-size="58"><tspan x="234.9" y="20.9">科</tspan><tspan x="297.7" y="20.9">佰</tspan><tspan x="360.5" y="20.9">生</tspan><tspan x="423.3" y="20.9">物</tspan></tspan></text>
<text transform="translate(52.4 916.6) rotate(-45)" class="wm" text-anchor="middle" y="20.9"><tspan font-size="53" class="wml"><tspan x="0.0" y="16.4">C</tspan><tspan x="31.3" y="16.4">o</tspan><tspan x="62.6" y="16.4">b</tspan><tspan x="93.9" y="16.4">i</tspan><tspan x="125.2" y="16.4">o</tspan><tspan x="156.5" y="16.4">e</tspan><tspan x="187.8" y="16.4">r</tspan></tspan><tspan font-size="58"><tspan x="234.9" y="20.9">科</tspan><tspan x="297.7" y="20.9">佰</tspan><tspan x="360.5" y="20.9">生</tspan><tspan x="423.3" y="20.9">物</tspan></tspan></text>
<text transform="translate(557.4 916.6) rotate(-45)" class="wm" text-anchor="middle" y="20.9"><tspan font-size="53" class="wml"><tspan x="0.0" y="16.4">C</tspan><tspan x="31.3" y="16.4">o</tspan><tspan x="62.6" y="16.4">b</tspan><tspan x="93.9" y="16.4">i</tspan><tspan x="125.2" y="16.4">o</tspan><tspan x="156.5" y="16.4">e</tspan><tspan x="187.8" y="16.4">r</tspan></tspan><tspan font-size="58"><tspan x="234.9" y="20.9">科</tspan><tspan x="297.7" y="20.9">佰</tspan><tspan x="360.5" y="20.9">生</tspan><tspan x="423.3" y="20.9">物</tspan></tspan></text>
<text transform="translate(1062.4 916.6) rotate(-45)" class="wm" text-anchor="middle" y="20.9"><tspan font-size="53" class="wml"><tspan x="0.0" y="16.4">C</tspan><tspan x="31.3" y="16.4">o</tspan><tspan x="62.6" y="16.4">b</tspan><tspan x="93.9" y="16.4">i</tspan><tspan x="125.2" y="16.4">o</tspan><tspan x="156.5" y="16.4">e</tspan><tspan x="187.8" y="16.4">r</tspan></tspan><tspan font-size="58"><tspan x="234.9" y="20.9">科</tspan><tspan x="297.7" y="20.9">佰</tspan><tspan x="360.5" y="20.9">生</tspan><tspan x="423.3" y="20.9">物</tspan></tspan></text>
</g>
</svg></body></html>
